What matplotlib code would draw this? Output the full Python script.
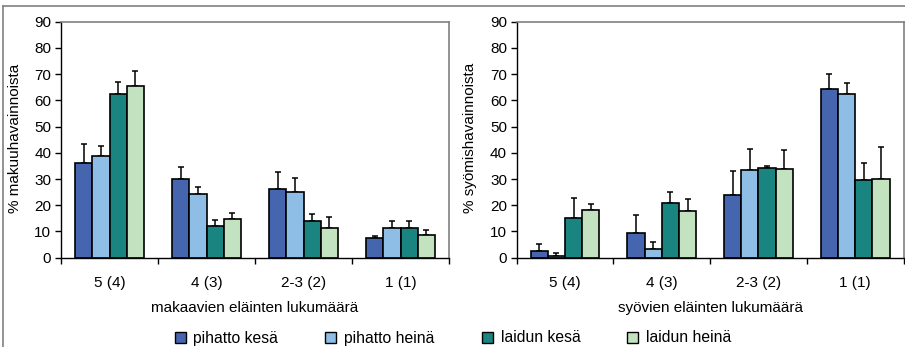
import matplotlib
matplotlib.use('Agg')
import matplotlib.pyplot as plt
import numpy as np
from matplotlib.lines import Line2D
from matplotlib.patches import Patch

plt.rcParams['font.family'] = ['Liberation Sans', 'DejaVu Sans']
plt.rcParams['font.size'] = 11

categories = ['5 (4)', '4 (3)', '2-3 (2)', '1 (1)']
series = ['pihatto kesä', 'pihatto heinä', 'laidun kesä', 'laidun heinä']
colors = ['#4565ae', '#8ebee5', '#1a8580', '#c3e2bf']

# makuu (lying) - means and upper error bar tops
makuu = [
    [36.0, 30.2, 26.2, 7.6],
    [38.9, 24.4, 25.1, 11.5],
    [62.3, 12.0, 14.1, 11.5],
    [65.5, 14.9, 11.2, 8.7],
]
makuu_top = [
    [43.4, 34.4, 32.8, 8.3],
    [42.7, 27.0, 30.5, 14.1],
    [67.0, 14.5, 16.7, 14.1],
    [71.3, 17.2, 15.5, 10.6],
]

# syominen (eating)
syo = [
    [2.4, 9.4, 24.0, 64.4],
    [0.8, 3.3, 33.5, 62.6],
    [15.3, 20.8, 34.1, 29.7],
    [18.2, 17.8, 33.7, 30.2],
]
syo_top = [
    [5.3, 16.3, 33.1, 70.1],
    [1.8, 6.1, 41.5, 66.8],
    [22.9, 25.1, 35.0, 36.0],
    [20.5, 22.4, 41.1, 42.4],
]

fig = plt.figure(figsize=(9.05, 3.47), dpi=100)
W, H = 905, 347


def panel(rect, vals, tops, xlabel, ylabel, ylab_x):
    ax = fig.add_axes([rect[0] / W, 1 - rect[3] / H, (rect[2] - rect[0]) / W,
                       (rect[3] - rect[1]) / H])
    x = np.arange(len(categories))
    bw = 0.178
    for i, (v, t) in enumerate(zip(vals, tops)):
        v = np.array(v)
        err = np.array(t) - v
        pos = x + (i - 1.5) * bw
        ax.bar(pos, v, bw, color=colors[i], edgecolor='black', linewidth=1.2,
               zorder=2)
        ax.errorbar(pos, v, yerr=[np.zeros_like(err), err], fmt='none',
                    ecolor='black', elinewidth=1.1, capsize=2.5, capthick=1.1,
                    zorder=1)
    ax.set_xlim(-0.5, len(categories) - 0.5)
    ax.set_ylim(0, 90)
    ax.set_yticks(range(0, 91, 10))
    ax.set_xticks(x)
    ax.set_xticklabels(categories)
    ax.set_xticks(np.arange(-0.5, len(categories)), minor=True)
    ax.tick_params(axis='x', which='major', length=0, pad=13)
    ax.tick_params(axis='x', which='minor', length=4, direction='out', width=1)
    ax.tick_params(axis='y', length=4, direction='out', width=1, pad=3)
    for s in ['top', 'right']:
        ax.spines[s].set_color('#808080')
        ax.spines[s].set_linewidth(1.2)
    for s in ['left', 'bottom']:
        ax.spines[s].set_linewidth(1.0)
    ax.set_xlabel(xlabel, labelpad=8)
    fig.text(ylab_x / W, 1 - 138 / H, ylabel, rotation=90, ha='center',
             va='center')
    return ax


panel((61, 21.7, 449, 257.7), makuu, makuu_top,
      'makaavien eläinten lukumäärä', '% makuuhavainnoista', 15)
panel((516.7, 21.7, 903.5, 257.7), syo, syo_top,
      'syövien eläinten lukumäärä', '% syömishavainnoista', 470)

handles = [Patch(facecolor=c, edgecolor='black', linewidth=1.0) for c in colors]
fig.legend(handles, series, loc='center', bbox_to_anchor=(453 / W, 1 - 338 / H),
           ncol=4, frameon=False, handlelength=0.7, handleheight=0.7,
           handletextpad=0.5, columnspacing=3.0, borderpad=0, fontsize=11.3)

# outer chart frame
fig.add_artist(Line2D([3 / W, 1], [1 - 6 / H, 1 - 6 / H], color='#808080',
                      linewidth=1.2))
fig.add_artist(Line2D([3 / W, 3 / W], [0, 1 - 6 / H], color='#808080',
                      linewidth=1.2))

fig.savefig('out.png', dpi=100)
